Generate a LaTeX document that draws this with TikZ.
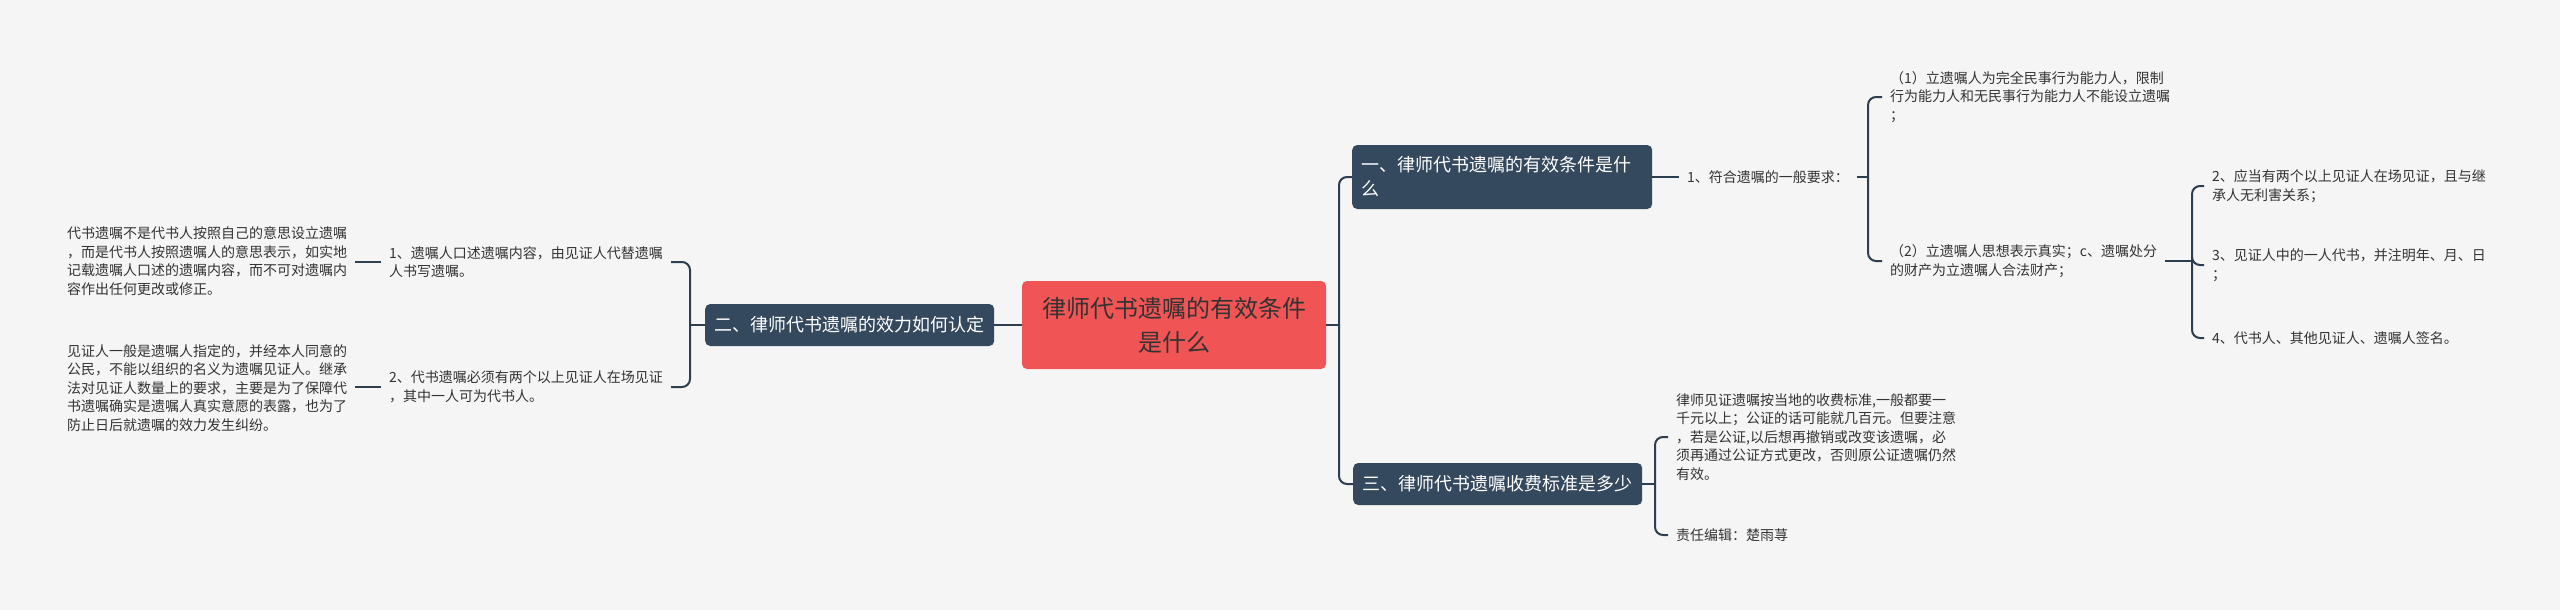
\documentclass[tikz,border=0pt]{standalone}
\usepackage{fontspec}
\setmainfont{Noto Sans CJK SC}
\definecolor{bg}{HTML}{F5F5F5}
\definecolor{darkbox}{HTML}{34495E}
\definecolor{linec}{HTML}{2C3E50}
\definecolor{rootred}{HTML}{F05454}
\definecolor{txt}{HTML}{333333}
\begin{document}
\begin{tikzpicture}[x=1pt,y=-1pt,
  conn/.style={draw=linec, line width=2pt, rounded corners=8pt},
  rootbox/.style={fill=rootred, text=txt, rounded corners=5pt, minimum width=304pt, minimum height=88pt, align=center, inner sep=0pt, font=\fontsize{24}{34}\selectfont},
  topic/.style={fill=darkbox, text=white, rounded corners=5pt, font=\fontsize{18}{24}\selectfont, inner xsep=9.5pt, align=left, minimum height=42pt},
  leaf/.style={text=txt, font=\fontsize{14}{18.5}\selectfont, inner xsep=8pt, inner ysep=2pt, align=left},
]
\fill[bg] (0,0) rectangle (2560,610);
\useasboundingbox (0,0) rectangle (2560,610);

% central topic
\node[rootbox] (root) at (1174,325) {律师代书遗嘱的有效条件\\是什么};

% main topics
\node[topic, anchor=west, minimum width=289pt] (L) at (705,325) {二、律师代书遗嘱的效力如何认定};
\node[topic, anchor=west, text width=281pt, minimum height=64pt] (R1) at (1352,177) {一、律师代书遗嘱的有效条件是什\\么};
\node[topic, anchor=west, minimum width=289pt] (R3) at (1353,484) {三、律师代书遗嘱收费标准是多少};

% left leaves
\node[leaf, anchor=west] (L1) at (381,262) {1、遗嘱人口述遗嘱内容，由见证人代替遗嘱\\人书写遗嘱。};
\node[leaf, anchor=west] (L2) at (381,387) {2、代书遗嘱必须有两个以上见证人在场见证\\，其中一人可为代书人。};
\node[leaf, anchor=west] (L1a) at (59,261) {代书遗嘱不是代书人按照自己的意思设立遗嘱\\，而是代书人按照遗嘱人的意思表示，如实地\\记载遗嘱人口述的遗嘱内容，而不可对遗嘱内\\容作出任何更改或修正。};
\node[leaf, anchor=west] (L2a) at (59,388) {见证人一般是遗嘱人指定的，并经本人同意的\\公民，不能以组织的名义为遗嘱见证人。继承\\法对见证人数量上的要求，主要是为了保障代\\书遗嘱确实是遗嘱人真实意愿的表露，也为了\\防止日后就遗嘱的效力发生纠纷。};

% right leaves
\node[leaf, anchor=west] (A) at (1679,177) {1、符合遗嘱的一般要求：};
\node[leaf, anchor=west] (A1) at (1882,97) {（1）立遗嘱人为完全民事行为能力人，限制\\行为能力人和无民事行为能力人不能设立遗嘱\\；};
\node[leaf, anchor=west] (A2) at (1882,261) {（2）立遗嘱人思想表示真实；c、遗嘱处分\\的财产为立遗嘱人合法财产；};
\node[leaf, anchor=west] (B2) at (2204,186) {2、应当有两个以上见证人在场见证，且与继\\承人无利害关系；};
\node[leaf, anchor=west] (B3) at (2204,265) {3、见证人中的一人代书，并注明年、月、日\\；};
\node[leaf, anchor=west] (B4) at (2204,338) {4、代书人、其他见证人、遗嘱人签名。};
\node[leaf, anchor=west] (C1) at (1668,437) {律师见证遗嘱按当地的收费标准,一般都要一\\千元以上；公证的话可能就几百元。但要注意\\，若是公证,以后想再撤销或改变该遗嘱，必\\须再通过公证方式更改，否则原公证遗嘱仍然\\有效。};
\node[leaf, anchor=west] (C2) at (1668,535) {责任编辑：楚雨荨};

% left connectors
\coordinate (bL) at (690,325);
\draw[conn] (root.west) -- (L.east);
\draw[conn] (L.west) -- (bL);
\draw[conn] (bL) |- (L1.east);
\draw[conn] (bL) |- (L2.east);
\draw[conn] (L1.west) -- (L1.west -| L1a.east);
\draw[conn] (L2.west) -- (L2.west -| L2a.east);

% right connectors
\coordinate (bR) at (1339,325);
\draw[conn] (root.east) -- (bR);
\draw[conn] (bR) |- (R1.west);
\draw[conn] (bR) |- (R3.west);
\draw[conn] (R1.east) -- (A.west);
\coordinate (b1) at (1868,177);
\draw[conn] (A.east) -- (b1);
\draw[conn] (b1) |- (A1.west);
\draw[conn] (b1) |- (A2.west);
\coordinate (b2) at (2192,261);
\draw[conn] (A2.east) -- (b2);
\draw[conn] (b2) |- (B2.west);
\draw[conn] (b2) |- (B3.west);
\draw[conn] (b2) |- (B4.west);
\coordinate (b3) at (1655,484);
\draw[conn] (R3.east) -- (b3);
\draw[conn] (b3) |- (C1.west);
\draw[conn] (b3) |- (C2.west);
\end{tikzpicture}
\end{document}
